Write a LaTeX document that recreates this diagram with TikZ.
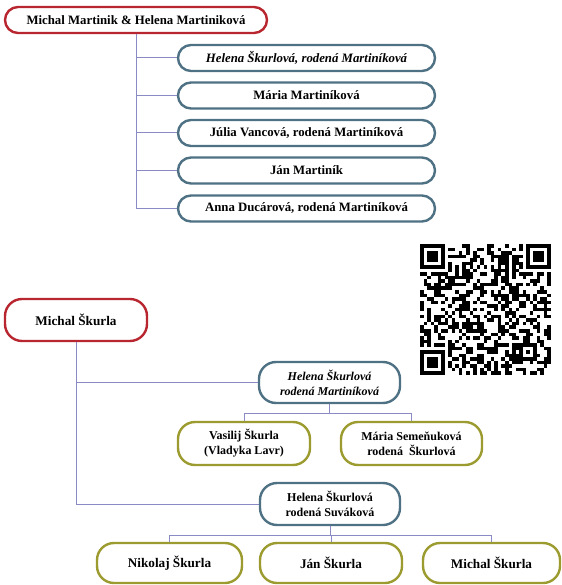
\documentclass[tikz,border=0pt]{standalone}
\usepackage{fontspec}
\setmainfont{Liberation Serif}
\usepackage{tikz}
\definecolor{famred}{HTML}{B8262F}
\definecolor{famblue}{HTML}{4E7184}
\definecolor{famolive}{HTML}{9C9B2F}
\definecolor{famline}{HTML}{8A8AC4}

\begin{document}
\begin{tikzpicture}[x=1pt, y=-1pt,
    person/.style={draw, line width=2.4pt, fill=white, rounded corners=13pt,
        align=center, inner sep=0pt, font=\fontsize{12.8}{15}\selectfont\bfseries},
    twoline/.style={font=\fontsize{12}{15}\selectfont\bfseries},
    oneline/.style={font=\fontsize{13.2}{15}\selectfont\bfseries},
    parent/.style={person, draw=famred},
    child/.style={person, draw=famblue},
    grandchild/.style={person, draw=famolive, rounded corners=17pt},
    link/.style={draw=famline, line width=1pt}]
                \useasboundingbox (0,0) rectangle (561,585);
                % first family
                \node[parent, minimum width=262, minimum height=26] (mm) at (136,20) {Michal Martinik \& Helena Martiniková};
                \node[child, minimum width=257, minimum height=26] (c1) at (306.5,58) {\itshape Helena Škurlová, rodená Martiníková};
                \node[child, minimum width=257, minimum height=26] (c2) at (306.5,95.5) {Mária Martiníková};
                \node[child, minimum width=257, minimum height=26] (c3) at (306.5,133) {Júlia Vancová, rodená Martiníková};
                \node[child, minimum width=257, minimum height=26] (c4) at (306.5,170.5) {Ján Martiník};
                \node[child, minimum width=257, minimum height=26] (c5) at (306.5,208.5) {Anna Ducárová, rodená Martiníková};
                \foreach \c in {c1,c2,c3,c4,c5}
                    \path[link] (mm.south) |- (\c.west);
                % second family
                \node[parent, oneline, minimum width=142, minimum height=42, rounded corners=17pt] (ms) at (76,320) {Michal Škurla};
                \node[child, twoline, minimum width=141, minimum height=41, rounded corners=17pt] (hm) at (329.5,382.5) {\itshape Helena Škurlová\\\itshape rodená Martiníková};
                \node[child, twoline, minimum width=140, minimum height=42, rounded corners=17pt] (hs) at (330,504) {Helena Škurlová\\rodená Suváková};
                \path[link] (ms.south) |- (hm.west);
                \path[link] (ms.south) |- (hs.west);
                \node[grandchild, twoline, minimum width=132, minimum height=43] (vs) at (244,443.5) {Vasilij Škurla\\(Vladyka Lavr)};
                \node[grandchild, twoline, minimum width=141, minimum height=43] (mse) at (411.5,443.5) {Mária Semeňuková\\rodená \ Škurlová};
                \path[link] (hm.south) -- ++(0,9) -| (vs.north);
                \path[link] (hm.south) -- ++(0,9) -| (mse.north);
                \node[grandchild, oneline, minimum width=145, minimum height=40] (ns) at (169.5,563) {Nikolaj Škurla};
                \node[grandchild, oneline, minimum width=142, minimum height=40] (js) at (331,563) {Ján Škurla};
                \node[grandchild, oneline, minimum width=137, minimum height=40] (mks) at (491.5,563) {Michal Škurla};
                \foreach \c in {ns,js,mks}
                    \path[link] (hs.south) -- ++(0,9) -| (\c.north);
                % qr code
                \def\qm{3.54}
                \pgfmathsetseed{4711}
                \foreach \i in {0,...,36}{
                    \foreach \j in {0,...,36}{
                        \pgfmathtruncatemacro\skipit{(\i<8 && \j<8) || (\i>28 && \j<8) || (\i<8 && \j>28) || (\i>27 && \i<33 && \j>27 && \j<33) || \i==6 || \j==6}
                        \pgfmathtruncatemacro\bit{rnd<0.5}
                        \ifnum\skipit=0 \ifnum\bit=1
                            \fill ({420+\i*\qm},{244+\j*\qm}) rectangle +(\qm,\qm);
                        \fi\fi
                    }
                }
                \foreach \k in {8,10,...,28}{
                    \fill ({420+\k*\qm},{244+6*\qm}) rectangle +(\qm,\qm);
                    \fill ({420+6*\qm},{244+\k*\qm}) rectangle +(\qm,\qm);
                }
                \foreach \a/\b in {0/0,30/0,0/30}{
                    \fill ({420+\a*\qm},{244+\b*\qm}) rectangle +({7*\qm},{7*\qm});
                    \fill[white] ({420+(\a+1)*\qm},{244+(\b+1)*\qm}) rectangle +({5*\qm},{5*\qm});
                    \fill ({420+(\a+2)*\qm},{244+(\b+2)*\qm}) rectangle +({3*\qm},{3*\qm});
                }
                \fill ({420+28*\qm},{244+28*\qm}) rectangle +({5*\qm},{5*\qm});
                \fill[white] ({420+29*\qm},{244+29*\qm}) rectangle +({3*\qm},{3*\qm});
                \fill ({420+30*\qm},{244+30*\qm}) rectangle +(\qm,\qm);
\end{tikzpicture}
\end{document}
